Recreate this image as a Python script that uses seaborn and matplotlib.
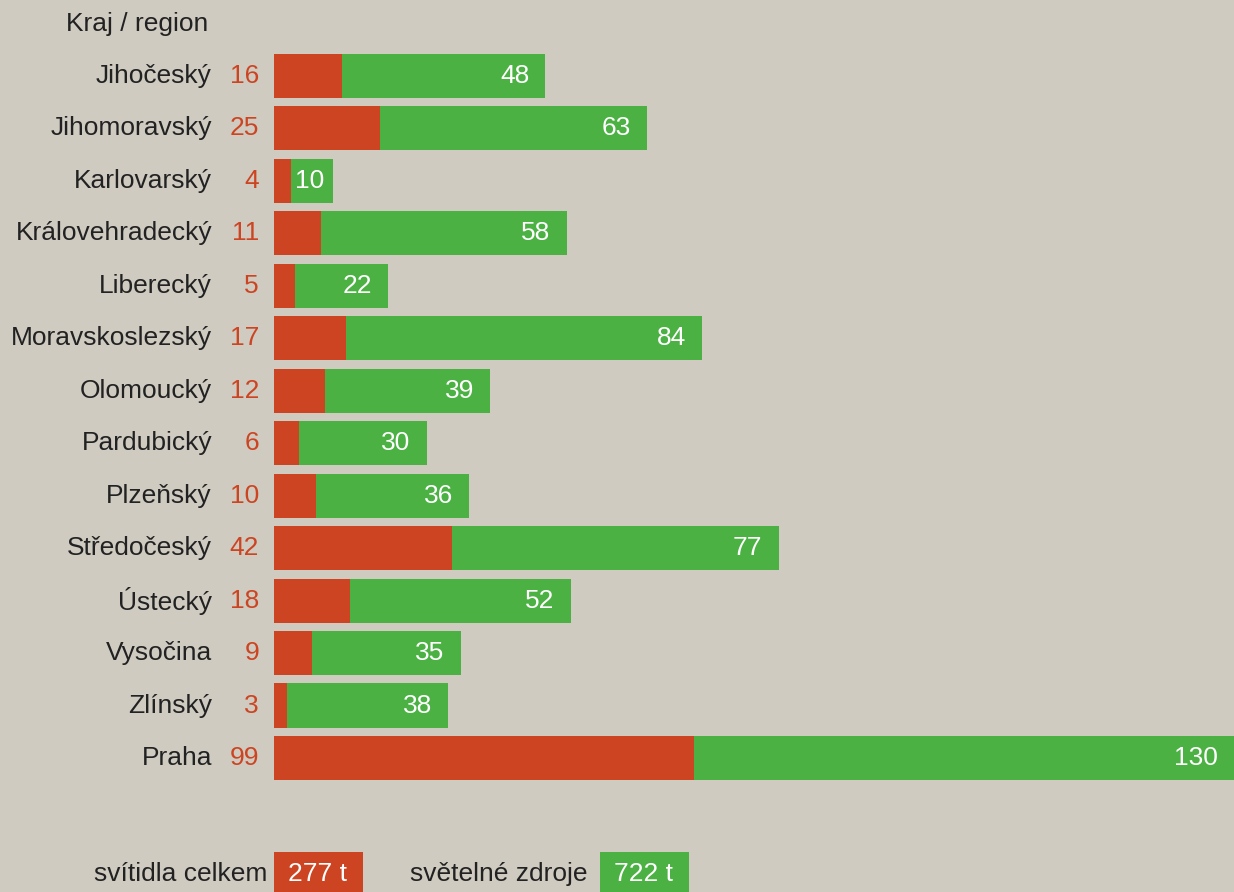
import matplotlib
matplotlib.use("Agg")
import matplotlib.pyplot as plt
import matplotlib.transforms as mtransforms
from matplotlib import font_manager
from matplotlib.patches import Rectangle
import seaborn as sns
import pandas as pd

# data
regiony = ["Jihočeský", "Jihomoravský", "Karlovarský", "Královehradecký", "Liberecký",
           "Moravskoslezský", "Olomoucký", "Pardubický", "Plzeňský", "Středočeský",
           "Ústecký", "Vysočina", "Zlínský", "Praha"]
svitidla = [16, 25, 4, 11, 5, 17, 12, 6, 10, 42, 18, 9, 3, 99]
zdroje = [48, 63, 10, 58, 22, 84, 39, 30, 36, 77, 52, 35, 38, 130]
legenda_popisky = ["svítidla celkem", "světelné zdroje"]
legenda_hodnoty = ["277 t", "722 t"]

CERVENA = "#cc4421"
ZELENA = "#4ab142"
POZADI = "#cfcbc1"
TEXT = "#222222"

df = pd.DataFrame({"region": regiony, "svitidla": svitidla, "zdroje": zdroje})
df["celkem"] = df["svitidla"] + df["zdroje"]

sns.set_theme(style="white")

# Arial-like font: look for the Liberation Sans file directly
rodina = "Liberation Sans"
for f in font_manager.findSystemFonts():
    if "LiberationSans-Regular" in f:
        font_manager.fontManager.addfont(f)
        rodina = font_manager.FontProperties(fname=f).get_name()
        break
plt.rcParams["font.family"] = [rodina, "DejaVu Sans"]
FS = 19

W, H = 1234, 892
fig = plt.figure(figsize=(W / 100, H / 100), dpi=100)
fig.patch.set_facecolor(POZADI)

# axes from the bar origin (x=274 px) to the right edge
ax = fig.add_axes([274 / W, 0, (W - 274) / W, 1])
ax.set_facecolor(POZADI)

sns.barplot(data=df, y="region", x="celkem", color=ZELENA, width=0.84,
            saturation=1, edgecolor="none", linewidth=0, ax=ax)
sns.barplot(data=df, y="region", x="svitidla", color=CERVENA, width=0.84,
            saturation=1, edgecolor="none", linewidth=0, ax=ax)

px_per_unit = 4.24
xmax = (W - 274) / px_per_unit
row_px = 52.46
ax.set_xlim(0, xmax)
ax.set_ylim((H - 76) / row_px, -76 / row_px)
ax.set_xticks([])
ax.set_yticks([])
ax.set_xlabel("")
ax.set_ylabel("")
for s in ax.spines.values():
    s.set_visible(False)

# labels left of the axes, in pixel offsets from the bar origin
trans = mtransforms.blended_transform_factory(ax.transAxes, ax.transData)
def off(dx):
    return mtransforms.offset_copy(trans, fig=fig, x=dx, y=0, units="dots")

ax.text(0, -1, "Kraj / region", transform=off(-66), ha="right", va="center",
        fontsize=FS, color=TEXT, clip_on=False)
for i, row in df.iterrows():
    ax.text(0, i, row["region"], transform=off(-62), ha="right", va="center",
            fontsize=FS, color=TEXT, clip_on=False)
    ax.text(0, i, str(row["svitidla"]), transform=off(-15), ha="right", va="center",
            fontsize=FS, color=CERVENA, clip_on=False)
    konec = min(row["celkem"], xmax)
    # short green bars get a tighter right margin so the label stays inside
    posun = -9 if row["zdroje"] < 15 else -16
    ax.annotate(str(row["zdroje"]), xy=(konec, i), xytext=(posun, 0),
                textcoords="offset pixels", ha="right", va="center",
                fontsize=FS, color="white")

# legend at the bottom
leg_text_x = [267, 588]
leg_box_x = [274, 600]
leg_barvy = [CERVENA, ZELENA]
for popis, hodnota, tx, bx, barva in zip(legenda_popisky, legenda_hodnoty,
                                          leg_text_x, leg_box_x, leg_barvy):
    fig.patches.append(Rectangle((bx / W, 0), 89 / W, 40 / H, transform=fig.transFigure,
                                 facecolor=barva, edgecolor="none"))
    fig.text(tx / W, 1 - 874 / H, popis, ha="right", va="center", fontsize=FS, color=TEXT)
    fig.text((bx + 14) / W, 1 - 874 / H, hodnota, ha="left", va="center",
             fontsize=FS, color="white")

fig.savefig("out.png", dpi=100, facecolor=POZADI)
